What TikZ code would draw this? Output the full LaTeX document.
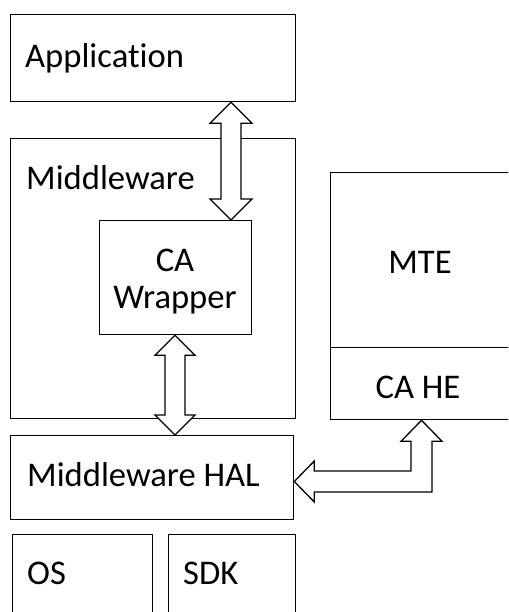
\documentclass[tikz,border=0pt]{standalone}
\usepackage{fontspec}
\setmainfont{Carlito}[Ligatures=NoCommon]
\usetikzlibrary{calc}
\tikzset{
  box/.style={draw=black, line width=1.3pt, rectangle, anchor=north west, inner sep=0pt},
  lbl/.style={font=\fontsize{34.6}{40}\selectfont, inner sep=0pt, anchor=west},
  clbl/.style={font=\fontsize{34.6}{40}\selectfont, inner sep=0pt, anchor=center},
  blk/.style={draw=black, fill=white, line width=1.3pt, line join=miter}
}
\newcommand{\vdarrow}[4]{% top, bottom, head half-width, shaft half-width
  \draw[blk] let \p1=(#1), \p2=(#2) in
    (\p1) -- ++(#3pt,-#3pt) -- (\x1+#4pt,\y1-#3pt) -- (\x1+#4pt,\y2+#3pt)
    -- ++(#3pt-#4pt,0pt) -- (\p2) -- ++(-#3pt,#3pt) -- (\x1-#4pt,\y2+#3pt)
    -- (\x1-#4pt,\y1-#3pt) -- ++(-#3pt+#4pt,0pt) -- cycle;}
\begin{document}
\begin{tikzpicture}[x=1pt,y=-1pt]
\useasboundingbox (0,0) rectangle (508,612);
\clip (0,0) rectangle (508,612);
% boxes
\node[box, minimum width=285pt, minimum height=87pt] (app) at (10,14) {};
\node[box, minimum width=285pt, minimum height=280pt] (mw) at (10,138) {};
\node[box, minimum width=152pt, minimum height=114pt] (wrap) at (99,220) {};
\node[box, minimum width=200pt, minimum height=175pt] (mte) at (330,172) {};
\node[box, minimum width=200pt, minimum height=72pt] (cahe) at (330,347) {};
\node[box, minimum width=283pt, minimum height=84pt] (hal) at (10,435) {};
\node[box, minimum width=140pt, minimum height=100pt] (os) at (12,534) {};
\node[box, minimum width=127pt, minimum height=100pt] (sdk) at (168,534) {};
% texts
\node[lbl] (tapp) at (25,58) {Application};
\node[lbl] (tmw) at (26,178) {Middleware};
\node[clbl] (twrap1) at (175,260) {CA};
\node[clbl] (twrap2) at (175,300) {Wrapper};
\node[clbl] (tmte) at (420,262) {MTE};
\node[clbl] (tcahe) at (418,387) {CA HE};
\node[lbl] (thal) at (27,475) {Middleware HAL};
\node[lbl] (tos) at (27,573) {OS};
\node[lbl] (tsdk) at (183,573) {SDK};
% arrows
\coordinate (a1x) at (231,0);
\coordinate (a2x) at (175,0);
\coordinate (a3x) at (421.5,0);
\coordinate (a3y) at (0,481.5);
\vdarrow{app.south -| a1x}{wrap.north -| a1x}{21}{10}
\vdarrow{wrap.south -| a2x}{hal.north -| a2x}{20}{10}
\draw[blk] let \p1=(cahe.south -| a3x), \p2=(hal.east |- a3y) in
  (\p1) -- ++(20.5pt,-21pt) -- (\x1+10.5pt,\y1-21pt) -- (\x1+10.5pt,\y2-10.5pt)
  -- (\x2+20pt,\y2-10.5pt) -- (\x2+20pt,\y2-20.5pt) -- (\p2)
  -- (\x2+20pt,\y2+20.5pt) -- (\x2+20pt,\y2+10.5pt) -- (\x1-10.5pt,\y2+10.5pt)
  -- (\x1-10.5pt,\y1-21pt) -- (\x1-20.5pt,\y1-21pt) -- cycle;
\end{tikzpicture}
\end{document}
